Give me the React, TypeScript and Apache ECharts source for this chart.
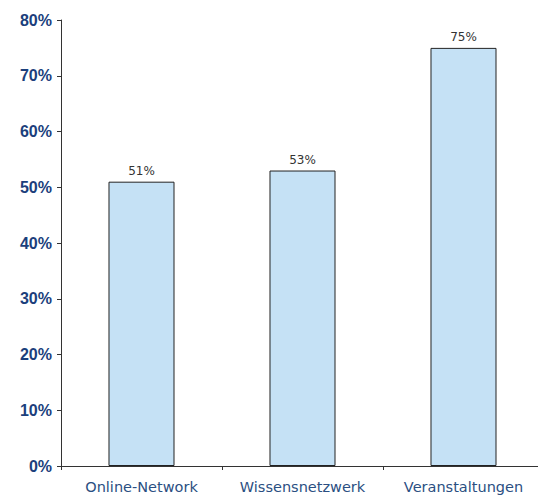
import React, { useEffect, useRef } from "react";
import * as echarts from "echarts";

const categories = ["Online-Network", "Wissensnetzwerk", "Veranstaltungen"];
const values = [51, 53, 75];
const yTicks = [0, 10, 20, 30, 40, 50, 60, 70, 80];

export default function App() {
  const ref = useRef<HTMLDivElement>(null);
  useEffect(() => {
    document.body.style.margin = "0";
    document.body.style.overflow = "hidden";
    const chart = echarts.init(ref.current!, null, { renderer: "svg" });
    chart.setOption({
      animation: false,
      grid: { left: 61, top: 20, width: 483, height: 446, containLabel: false },
      xAxis: {
        type: "category",
        data: categories,
        axisLine: { lineStyle: { color: "#333", width: 1 } },
        axisTick: { show: true, interval: 0, alignWithLabel: false, length: 4, lineStyle: { color: "#333" } },
        axisLabel: {
          interval: 0,
          hideOverlap: false,
          color: "#2b4f82",
          fontSize: 14.5,
          fontFamily: "DejaVu Sans, sans-serif",
          margin: 13,
        },
      },
      yAxis: {
        type: "value",
        min: yTicks[0],
        max: yTicks[yTicks.length - 1],
        interval: 10,
        splitLine: { show: false },
        axisLine: { show: true, lineStyle: { color: "#333", width: 1 } },
        axisTick: { show: true, length: 4, lineStyle: { color: "#333" } },
        axisLabel: {
          formatter: "{value}%",
          color: "#1b3f7c",
          fontWeight: "bold",
          fontSize: 16,
          fontFamily: "Liberation Sans, Arial, sans-serif",
          margin: 9,
        },
      },
      series: [
        {
          type: "bar",
          data: values,
          barWidth: "41%",
          itemStyle: { color: "#c5e1f5", borderColor: "#222", borderWidth: 1 },
          label: {
            show: true,
            position: "top",
            formatter: "{c}%",
            color: "#333",
            fontSize: 12,
            fontFamily: "DejaVu Sans, sans-serif",
            distance: 5,
          },
        },
      ],
    });
    return () => chart.dispose();
  }, []);
  return <div ref={ref} style={{ width: 548, height: 495 }} />;
}
